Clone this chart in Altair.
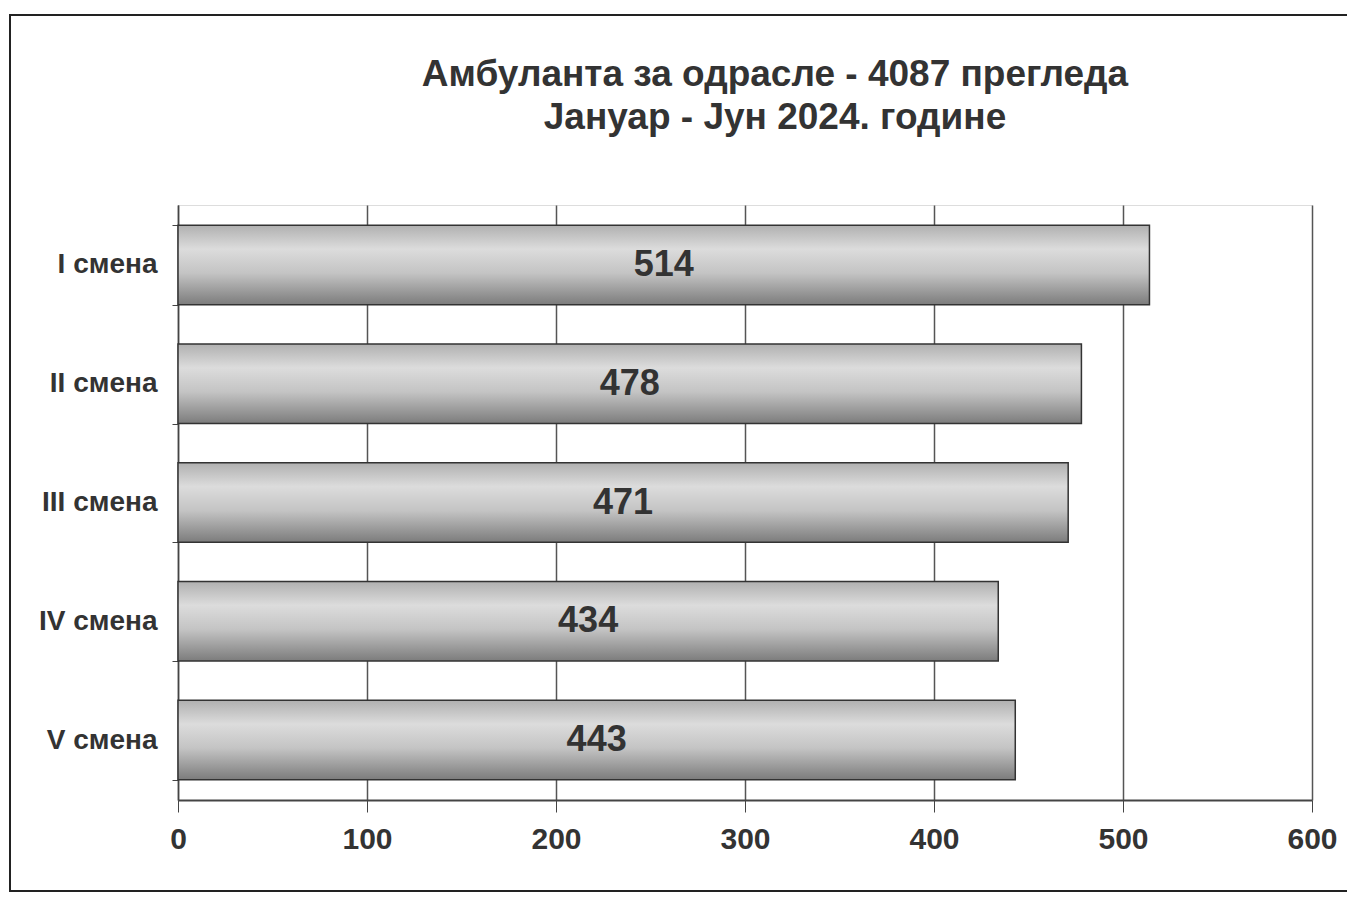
import altair as alt
import pandas as pd

categories = ["I смена", "II смена", "III смена", "IV смена", "V смена"]
values = [514, 478, 471, 434, 443]
x_ticks = [0, 100, 200, 300, 400, 500, 600]
title_lines = ["Амбуланта за одрасле -  4087 прегледа", "Јануар - Јун 2024. године"]

df = pd.DataFrame({"smena": categories, "pregledi": values})
one = pd.DataFrame({"k": [0]})

W, H = 1134, 595
FONT = "Liberation Sans"
INK = "#333333"

y_enc = alt.Y("smena:N", sort=categories, title=None,
              scale=alt.Scale(paddingInner=0.33, paddingOuter=0.17),
              axis=alt.Axis(labelFont=FONT, labelFontSize=28, labelFontWeight="bold",
                            labelColor=INK, labelPadding=15, tickBand="extent",
                            tickSize=6, tickColor="#444", domainColor="#444",
                            domainWidth=1.5, grid=False))
x_enc = alt.X("pregledi:Q", title=None,
              scale=alt.Scale(domain=[0, 600], nice=False),
              axis=alt.Axis(values=x_ticks, labelFont=FONT, labelFontSize=30,
                            labelFontWeight="bold", labelColor=INK, labelPadding=12,
                            labelFlush=False,
                            tickSize=12, tickColor="#444", domainColor="#444",
                            domainWidth=2, grid=True, gridColor="#555",
                            gridWidth=1.5, gridOpacity=1))

grad = alt.Gradient(gradient="linear", x1=0, x2=0, y1=0, y2=1,
                    stops=[alt.GradientStop(color="#b0b0b0", offset=0),
                           alt.GradientStop(color="#dcdcdc", offset=0.3),
                           alt.GradientStop(color="#c4c4c4", offset=0.6),
                           alt.GradientStop(color="#7c7c7c", offset=1)])

bars = alt.Chart(df).mark_bar(fill=grad, stroke="#333", strokeWidth=1.5).encode(
    x=x_enc, y=y_enc)

labels = alt.Chart(df).transform_calculate(mid="datum.pregledi / 2").mark_text(
    font=FONT, fontSize=36, fontWeight="bold", color=INK, baseline="middle"
).encode(x=alt.X("mid:Q"), y=alt.Y("smena:N", sort=categories), text="pregledi:Q")

frame = alt.Chart(one).mark_rect(filled=False, stroke="#222", strokeWidth=2).encode(
    x=alt.value(-168), x2=alt.value(1174), y=alt.value(-190), y2=alt.value(686))

title = alt.Chart(one).mark_text(
    text=title_lines, font=FONT, fontSize=37, fontWeight="bold", color=INK,
    align="center", baseline="middle", lineHeight=43
).encode(x=alt.value(597), y=alt.value(-130))

chart = alt.layer(frame, bars, labels, title).properties(
    width=W, height=H,
    autosize=alt.AutoSizeParams(type="none"),
    padding={"left": 170, "top": 197, "right": 35, "bottom": 92},
).configure_view(stroke=None).configure(background="white")

chart.save("out.html", embed_options={"renderer": "svg", "actions": False})
